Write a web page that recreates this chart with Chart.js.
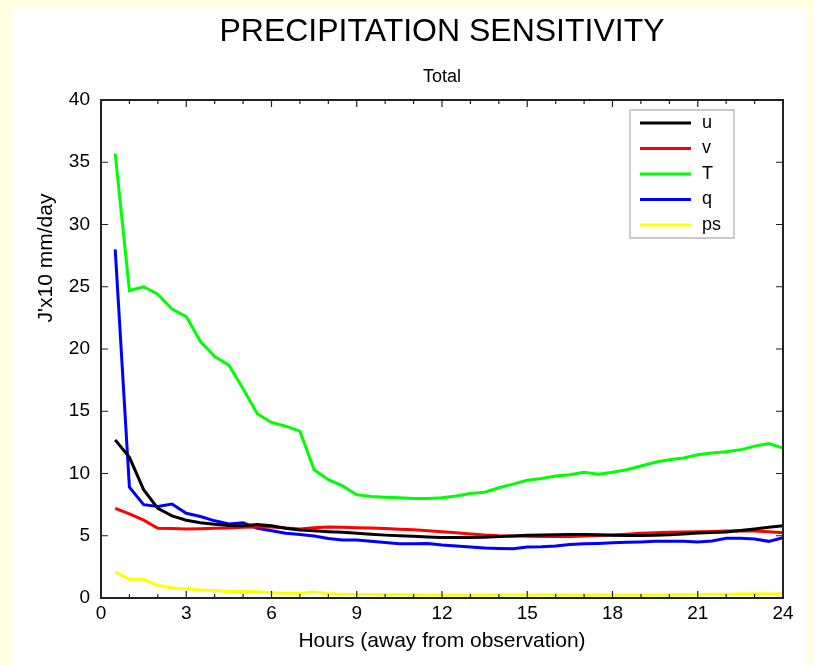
<!DOCTYPE html>
<html>
<head>
<meta charset="utf-8">
<script src="https://cdn.jsdelivr.net/npm/chart.js@4.4.1/dist/chart.umd.min.js"></script>
<style>
html, body { margin: 0; padding: 0; }
body { width: 814px; height: 666px; background: #ffffe0; position: relative; overflow: hidden; }
#paper { position: absolute; left: 12px; top: 7px; width: 795px; height: 659px; background: #fff; }
#wrap { position: absolute; left: 0; top: 0; width: 814px; height: 666px; }
</style>
</head>
<body>
<div id="paper"></div>
<div id="wrap"><canvas id="sensChart" width="814" height="666"></canvas></div>
<script>
const FONT = "'Liberation Sans', Arial, sans-serif";

// hours away from observation
const hours = [0.5, 1, 1.5, 2, 2.5, 3, 3.5, 4, 4.5, 5, 5.5, 6, 6.5, 7, 7.5, 8, 8.5, 9, 9.5, 10, 10.5, 11, 11.5, 12,
  12.5, 13, 13.5, 14, 14.5, 15, 15.5, 16, 16.5, 17, 17.5, 18, 18.5, 19, 19.5, 20, 20.5, 21, 21.5, 22, 22.5, 23, 23.5, 24];

const uVals = [12.7, 11.3, 8.7, 7.2, 6.6, 6.25, 6.05, 5.92, 5.82, 5.8, 5.9, 5.8, 5.6, 5.47, 5.4, 5.33, 5.28, 5.2, 5.12, 5.05, 5.0, 4.95, 4.9, 4.86,
  4.85, 4.86, 4.88, 4.93, 4.98, 5.05, 5.07, 5.09, 5.1, 5.1, 5.08, 5.05, 5.03, 5.03, 5.04, 5.08, 5.15, 5.22, 5.26, 5.3, 5.42, 5.55, 5.68, 5.8];
const vVals = [7.2, 6.75, 6.25, 5.6, 5.58, 5.55, 5.57, 5.6, 5.62, 5.68, 5.7, 5.7, 5.62, 5.55, 5.65, 5.7, 5.68, 5.65, 5.62, 5.58, 5.52, 5.48, 5.4, 5.33,
  5.25, 5.15, 5.06, 5.0, 4.97, 4.95, 4.94, 4.93, 4.93, 4.97, 5.02, 5.06, 5.12, 5.2, 5.25, 5.28, 5.3, 5.33, 5.35, 5.38, 5.41, 5.38, 5.33, 5.25];
const tVals = [35.7, 24.7, 25.0, 24.4, 23.2, 22.6, 20.6, 19.4, 18.7, 16.8, 14.8, 14.1, 13.8, 13.4, 10.3, 9.5, 9.0, 8.3, 8.15, 8.1, 8.05, 8.0, 8.0, 8.05,
  8.2, 8.4, 8.5, 8.85, 9.15, 9.45, 9.6, 9.8, 9.9, 10.1, 9.95, 10.1, 10.3, 10.6, 10.9, 11.1, 11.25, 11.5, 11.65, 11.75, 11.9, 12.2, 12.4, 12.05];
const qVals = [28.0, 8.9, 7.5, 7.35, 7.55, 6.8, 6.55, 6.2, 5.95, 6.05, 5.6, 5.4, 5.2, 5.1, 4.98, 4.78, 4.66, 4.65, 4.55, 4.45, 4.35, 4.35, 4.38, 4.25,
  4.18, 4.1, 4.02, 3.98, 3.96, 4.1, 4.12, 4.17, 4.3, 4.35, 4.38, 4.43, 4.47, 4.5, 4.55, 4.55, 4.55, 4.5, 4.58, 4.8, 4.8, 4.74, 4.55, 4.85];
const psVals = [2.1, 1.5, 1.5, 1.0, 0.8, 0.75, 0.65, 0.6, 0.52, 0.52, 0.5, 0.42, 0.38, 0.36, 0.48, 0.35, 0.3, 0.28, 0.28, 0.27, 0.28, 0.26, 0.25, 0.25,
  0.25, 0.25, 0.25, 0.26, 0.26, 0.25, 0.27, 0.26, 0.25, 0.25, 0.27, 0.25, 0.25, 0.25, 0.25, 0.26, 0.28, 0.27, 0.3, 0.3, 0.33, 0.34, 0.32, 0.35];

const seriesNames = ['u', 'v', 'T', 'q', 'ps'];
const seriesColors = ['#000000', '#ff0000', '#00ff00', '#0000ff', '#ffff00'];
const seriesVals = [uVals, vVals, tVals, qVals, psVals];

const xTicks = [0, 3, 6, 9, 12, 15, 18, 21, 24];
const yTicks = [0, 5, 10, 15, 20, 25, 30, 35, 40];

// frame, inside tick marks, y title and legend box
const decorPlugin = {
  id: 'decor',
  afterDatasetsDraw(chart) {
    const ctx = chart.ctx;
    const a = chart.chartArea;
    const xs = chart.scales.x, ys = chart.scales.y;
    ctx.save();
    ctx.strokeStyle = '#222';
    ctx.lineWidth = 2;
    ctx.strokeRect(a.left, a.top, a.right - a.left, a.bottom - a.top);
    ctx.lineWidth = 1.2;
    ctx.beginPath();
    for (let h = 1; h < 24; h++) {
      const px = xs.getPixelForValue(h);
      const len = (h % 3 === 0) ? 7 : 4;
      ctx.moveTo(px, a.bottom); ctx.lineTo(px, a.bottom - len);
      ctx.moveTo(px, a.top); ctx.lineTo(px, a.top + len);
    }
    yTicks.slice(1, -1).forEach(v => {
      const py = ys.getPixelForValue(v);
      ctx.moveTo(a.left, py); ctx.lineTo(a.left + 7, py);
      ctx.moveTo(a.right, py); ctx.lineTo(a.right - 7, py);
    });
    ctx.stroke();
    ctx.restore();
  },
  afterDraw(chart) {
    const ctx = chart.ctx;
    const a = chart.chartArea;
    ctx.save();
    // y axis title
    ctx.translate(46, a.top + 158);
    ctx.rotate(-Math.PI / 2);
    ctx.fillStyle = '#000';
    ctx.font = '21px ' + FONT;
    ctx.textAlign = 'center';
    ctx.textBaseline = 'middle';
    ctx.fillText("J'x10 mm/day", 0, 0);
    ctx.restore();

    // legend
    const bx = a.right - 153, by = a.top + 10, bw = 104, bh = 128;
    ctx.save();
    ctx.fillStyle = '#fff';
    ctx.fillRect(bx, by, bw, bh);
    ctx.strokeStyle = '#bbb';
    ctx.lineWidth = 1.5;
    ctx.strokeRect(bx, by, bw, bh);
    ctx.font = '18px ' + FONT;
    ctx.textBaseline = 'middle';
    chart.data.datasets.forEach((ds, i) => {
      const ry = by + 13 + i * 25.5;
      ctx.strokeStyle = ds.borderColor;
      ctx.lineWidth = 3;
      ctx.beginPath();
      ctx.moveTo(bx + 10, ry); ctx.lineTo(bx + 61, ry);
      ctx.stroke();
      ctx.fillStyle = '#000';
      ctx.fillText(ds.label, bx + 72, ry);
    });
    ctx.restore();
  }
};

const ctx = document.getElementById('sensChart').getContext('2d');
const sensChart = new Chart(ctx, {
  type: 'line',
  data: {
    datasets: seriesNames.map((name, i) => ({
      label: name,
      data: hours.map((h, j) => ({ x: h, y: seriesVals[i][j] })),
      borderColor: seriesColors[i],
      backgroundColor: seriesColors[i],
      borderWidth: 3,
      pointRadius: 0,
      tension: 0,
      fill: false
    }))
  },
  options: {
    responsive: false,
    animation: false,
    layout: { padding: { top: 0, left: 0, right: 31, bottom: 0 } },
    plugins: {
      legend: { display: false },
      tooltip: { enabled: false },
      title: {
        display: true,
        fullSize: false,
        text: 'PRECIPITATION SENSITIVITY',
        color: '#000',
        font: { family: FONT, size: 32, weight: 'normal', lineHeight: 1.2 },
        padding: { top: 13, bottom: 0 }
      },
      subtitle: {
        display: true,
        fullSize: false,
        text: 'Total',
        color: '#000',
        font: { family: FONT, size: 18, weight: 'normal', lineHeight: 1.2 },
        padding: { top: 14.8, bottom: 12.2 }
      }
    },
    scales: {
      x: {
        type: 'linear',
        min: 0, max: 24,
        afterFit: s => { s.height = 68; },
        afterBuildTicks: s => { s.ticks = xTicks.map(v => ({ value: v })); },
        grid: { display: false, drawTicks: false },
        border: { display: false },
        ticks: { color: '#000', padding: 4, maxRotation: 0, font: { family: FONT, size: 19 } },
        title: {
          display: true,
          text: 'Hours (away from observation)',
          color: '#000',
          font: { family: FONT, size: 21, lineHeight: 1.2 },
          padding: { top: 0, bottom: 12.4 }
        }
      },
      y: {
        type: 'linear',
        min: 0, max: 40,
        afterFit: s => { s.width = 101; },
        afterBuildTicks: s => { s.ticks = yTicks.map(v => ({ value: v })); },
        grid: { display: false, drawTicks: false },
        border: { display: false },
        ticks: { color: '#000', padding: 11, font: { family: FONT, size: 19 } }
      }
    }
  },
  plugins: [decorPlugin]
});
</script>
</body>
</html>
